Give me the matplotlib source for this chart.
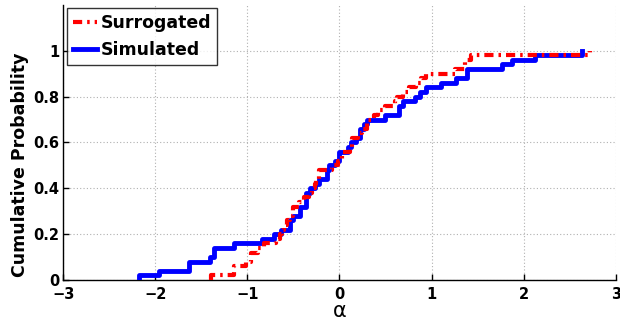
import numpy as np
import matplotlib
matplotlib.use("Agg")
import matplotlib.pyplot as plt

# Simulated sample (value, count)
sim_vals = [-2.18, -1.96, -1.63, -1.41, -1.36, -1.14, -0.84, -0.71, -0.63, -0.54, -0.50,
            -0.43, -0.36, -0.32, -0.27, -0.22, -0.14, -0.11, -0.05, 0.00, 0.09, 0.13,
            0.18, 0.22, 0.27, 0.30, 0.49, 0.65, 0.69, 0.82, 0.87, 0.94, 1.10, 1.27,
            1.38, 1.77, 1.87, 2.12, 2.63]
sim_cnt = [1, 1, 2, 1, 2, 1, 1, 1, 1, 2, 1,
           2, 3, 1, 1, 1, 2, 1, 1, 2, 1, 1,
           1, 2, 1, 1, 1, 2, 1, 1, 1, 1, 1, 1,
           2, 1, 1, 1, 1]

# Surrogated sample (value, count)
sur_vals = [-1.40, -1.15, -1.02, -0.96, -0.89, -0.82, -0.69, -0.65, -0.62, -0.60, -0.57,
            -0.54, -0.50, -0.44, -0.38, -0.33, -0.30, -0.27, -0.25, -0.22, -0.08, -0.02,
            0.03, 0.11, 0.14, 0.20, 0.25, 0.30, 0.38, 0.42, 0.49, 0.60, 0.62, 0.69,
            0.76, 0.83, 0.89, 0.94, 1.25, 1.36, 1.43, 2.72]
sur_cnt = [1, 2, 1, 2, 1, 1, 1, 1, 1, 1, 1,
           1, 2, 1, 1, 1, 1, 1, 1, 2, 1, 1,
           2, 1, 2, 1, 1, 2, 1, 1, 1, 1, 1, 1,
           1, 1, 1, 1, 1, 2, 1, 1]

x_ticks = [-3, -2, -1, 0, 1, 2, 3]
y_ticks = [0, 0.2, 0.4, 0.6, 0.8, 1]


def ecdf(vals, cnts):
    s = np.repeat(vals, cnts)
    n = len(s)
    x = np.concatenate([[s[0]], s])
    y = np.concatenate([[0.0], np.arange(1, n + 1) / n])
    return x, y


fig = plt.figure(figsize=(6.2, 3.23), dpi=100)
ax = fig.add_axes([0.102, 0.133, 0.891, 0.852])

xr, yr = ecdf(sur_vals, sur_cnt)
xb, yb = ecdf(sim_vals, sim_cnt)
ax.step(xb, yb, where='post', color='#0000ff', lw=3.5, label='Simulated', zorder=3)
ax.step(xr, yr, where='post', color='#ff0000', lw=3.0, linestyle=(0, (2.2, 1.2, 0.6, 1.2)),
        label='Surrogated', zorder=4)

ax.set_xlim(-3, 3)
ax.set_ylim(0, 1.2)
ax.set_xticks(x_ticks)
ax.set_yticks(y_ticks)
ax.set_xticklabels([("\u2212%d" % -t) if t < 0 else str(t) for t in x_ticks],
                   fontweight='bold', fontsize=10.5)
ax.set_yticklabels(["0", "0.2", "0.4", "0.6", "0.8", "1"], fontweight='bold', fontsize=10.5)
ax.tick_params(direction='in', length=4, width=1)
ax.tick_params(axis='x', pad=5)
ax.tick_params(axis='y', pad=3)
ax.grid(True, linestyle=(0, (1, 2)), color='#b0b0b0', linewidth=0.8)
ax.set_axisbelow(True)
for s in ['top', 'right']:
    ax.spines[s].set_visible(False)
for s in ['left', 'bottom']:
    ax.spines[s].set_linewidth(1.0)

ax.set_xlabel('\u03b1', fontsize=15, labelpad=-1)
ax.set_ylabel('Cumulative Probability', fontsize=12.5, fontweight='bold')
ax.yaxis.set_label_coords(-0.062, 0.42)

handles, labels = ax.get_legend_handles_labels()
leg = ax.legend(handles[::-1], labels[::-1], loc='upper left', bbox_to_anchor=(0.0, 1.0),
                prop={'weight': 'bold', 'size': 12.5}, frameon=True, fancybox=False,
                edgecolor='black', handlelength=1.4, handletextpad=0.2, borderpad=0.35,
                labelspacing=0.5, borderaxespad=0.2)
leg.get_frame().set_linewidth(1.0)

fig.savefig('out.png', dpi=100)
